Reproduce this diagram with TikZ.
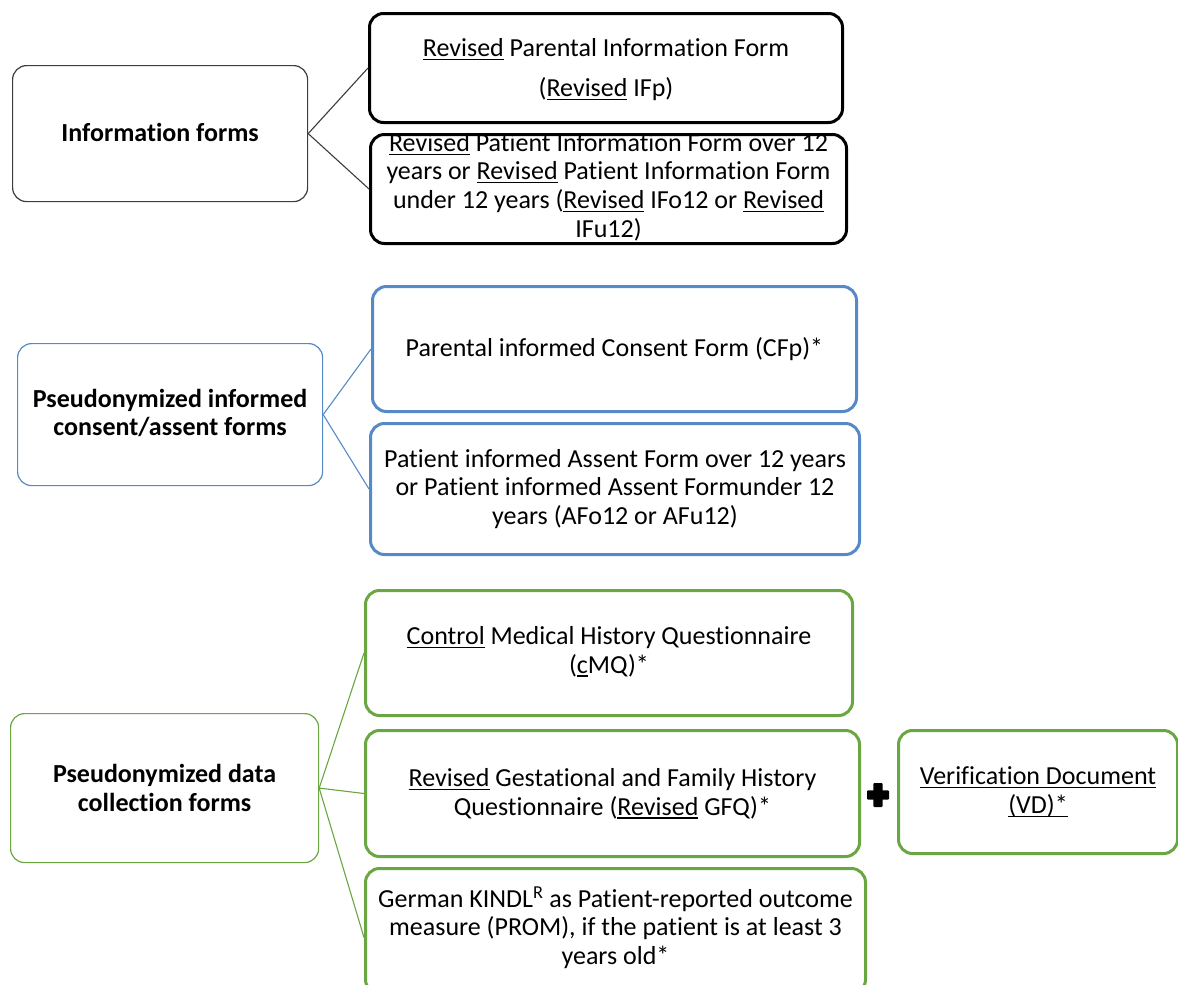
\documentclass[tikz,border=0pt]{standalone}
\usepackage{fontspec}
\setmainfont[Ligatures=NoCommon, RawFeature={-liga,-calt,-dlig}]{Carlito}
\definecolor{grpblue}{RGB}{86,138,198}
\definecolor{grpgreen}{RGB}{106,166,66}
\definecolor{linkgray}{RGB}{60,60,60}
% underline drawn at a fixed depth below the baseline
\newlength{\undlw}
\newcommand{\undl}[1]{\settowidth{\undlw}{#1}\rlap{\rule[-3.6pt]{\undlw}{1.2pt}}#1}
\newcommand{\rv}{\undl{Revised}}
\tikzset{
  hubbox/.style={draw, rounded corners=14pt, line width=1.2pt, inner sep=0pt, anchor=north west},
  leafbox/.style={draw, rounded corners=14pt, line width=3pt, inner sep=0pt, anchor=north west},
  txt/.style={align=center, inner sep=0pt, font=\fontsize{26}{28.7}\selectfont},
  link/.style={line width=1.1pt},
}
\begin{document}
\begin{tikzpicture}[x=1pt, y=-1pt]
\useasboundingbox (0,0) rectangle (1178,985);

% ---------- information forms (black) ----------
\node[hubbox, draw=linkgray, minimum width=295pt, minimum height=136pt] (info) at (12,65) {};
\node[txt] (infoT) at ([yshift=1.5pt]info.center) {\bfseries Information forms};
\node[leafbox, draw=black, minimum width=473pt, minimum height=109pt] (ifp) at (368,12) {};
\node[txt, font=\fontsize{26}{40}\selectfont] (ifpT) at ([yshift=-1.5pt]ifp.center) {\rv{} Parental Information Form\\(\rv{} IFp)};
\node[leafbox, draw=black, minimum width=476pt, minimum height=109pt] (ifo) at (369,133) {};
\node[txt] (ifoT) at ([yshift=2pt]ifo.center) {\rv{} Patient Information Form over 12\\years or \rv{} Patient Information Form\\under 12 years (\rv{} IFo12 or \rv{}\\IFu12)};
\draw[link, linkgray] (info.east) -- (ifp.west);
\draw[link, linkgray] (info.east) -- (ifo.west);

% ---------- consent / assent forms (blue) ----------
\node[hubbox, draw=grpblue, minimum width=305pt, minimum height=142pt] (cons) at (17,343) {};
\node[txt] (consT) at ([yshift=1.5pt]cons.center) {\bfseries Pseudonymized informed\\\bfseries consent/assent forms};
\node[leafbox, draw=grpblue, minimum width=484pt, minimum height=125pt] (cfp) at (371,285) {};
\node[txt] (cfpT) at (cfp) {Parental informed Consent Form (CFp)*};
\node[leafbox, draw=grpblue, minimum width=489pt, minimum height=131pt] (afo) at (369,422) {};
\node[txt] (afoT) at (afo) {Patient informed Assent Form over 12 years\\or Patient informed Assent Formunder 12\\years (AFo12 or AFu12)};
\draw[link, grpblue] (cons.east) -- (cfp.west);
\draw[link, grpblue] (cons.east) -- (afo.west);

% ---------- data collection forms (green) ----------
\node[hubbox, draw=grpgreen, minimum width=308pt, minimum height=149pt] (data) at (10,713) {};
\node[txt] (dataT) at (data) {\bfseries Pseudonymized data\\\bfseries collection forms};
\node[leafbox, draw=grpgreen, minimum width=487pt, minimum height=125pt] (cmq) at (364,589) {};
\node[txt] (cmqT) at ([yshift=1.5pt]cmq.center) {\undl{Control} Medical History Questionnaire\\(\undl{c}MQ)*};
\node[leafbox, draw=grpgreen, minimum width=494pt, minimum height=126pt] (gfq) at (364,729) {};
\node[txt] (gfqT) at (gfq) {\rv{} Gestational and Family History\\Questionnaire (\rv{} GFQ)*};
\node[leafbox, draw=grpgreen, minimum width=500pt, minimum height=125pt] (kindl) at (364,867) {};
\node[txt] (kindlT) at ([yshift=3.5pt]kindl.center) {German KINDL\textsuperscript{R} as Patient-reported outcome\\measure (PROM), if the patient is at least 3\\years old*};
\node[leafbox, draw=grpgreen, minimum width=279pt, minimum height=123pt] (vd) at (897,729) {};
\node[txt] (vdT) at (vd) {\undl{Verification Document}\\\undl{(VD)*}};
\draw[link, grpgreen] (data.east) -- (cmq.west);
\draw[link, grpgreen] (data.east) -- (gfq.west);
\draw[link, grpgreen] (data.east) -- ([yshift=-6.5pt]kindl.west);

% plus sign between the questionnaire and its verification document
\node[minimum size=24pt, inner sep=0pt] (plus) at (878,795) {};
\fill[black, rounded corners=1pt] (plus.center) ++(-11,-4.6) rectangle ++(22,9.2);
\fill[black, rounded corners=1pt] (plus.center) ++(-4.7,-12) rectangle ++(9.4,24);
\end{tikzpicture}
\end{document}
